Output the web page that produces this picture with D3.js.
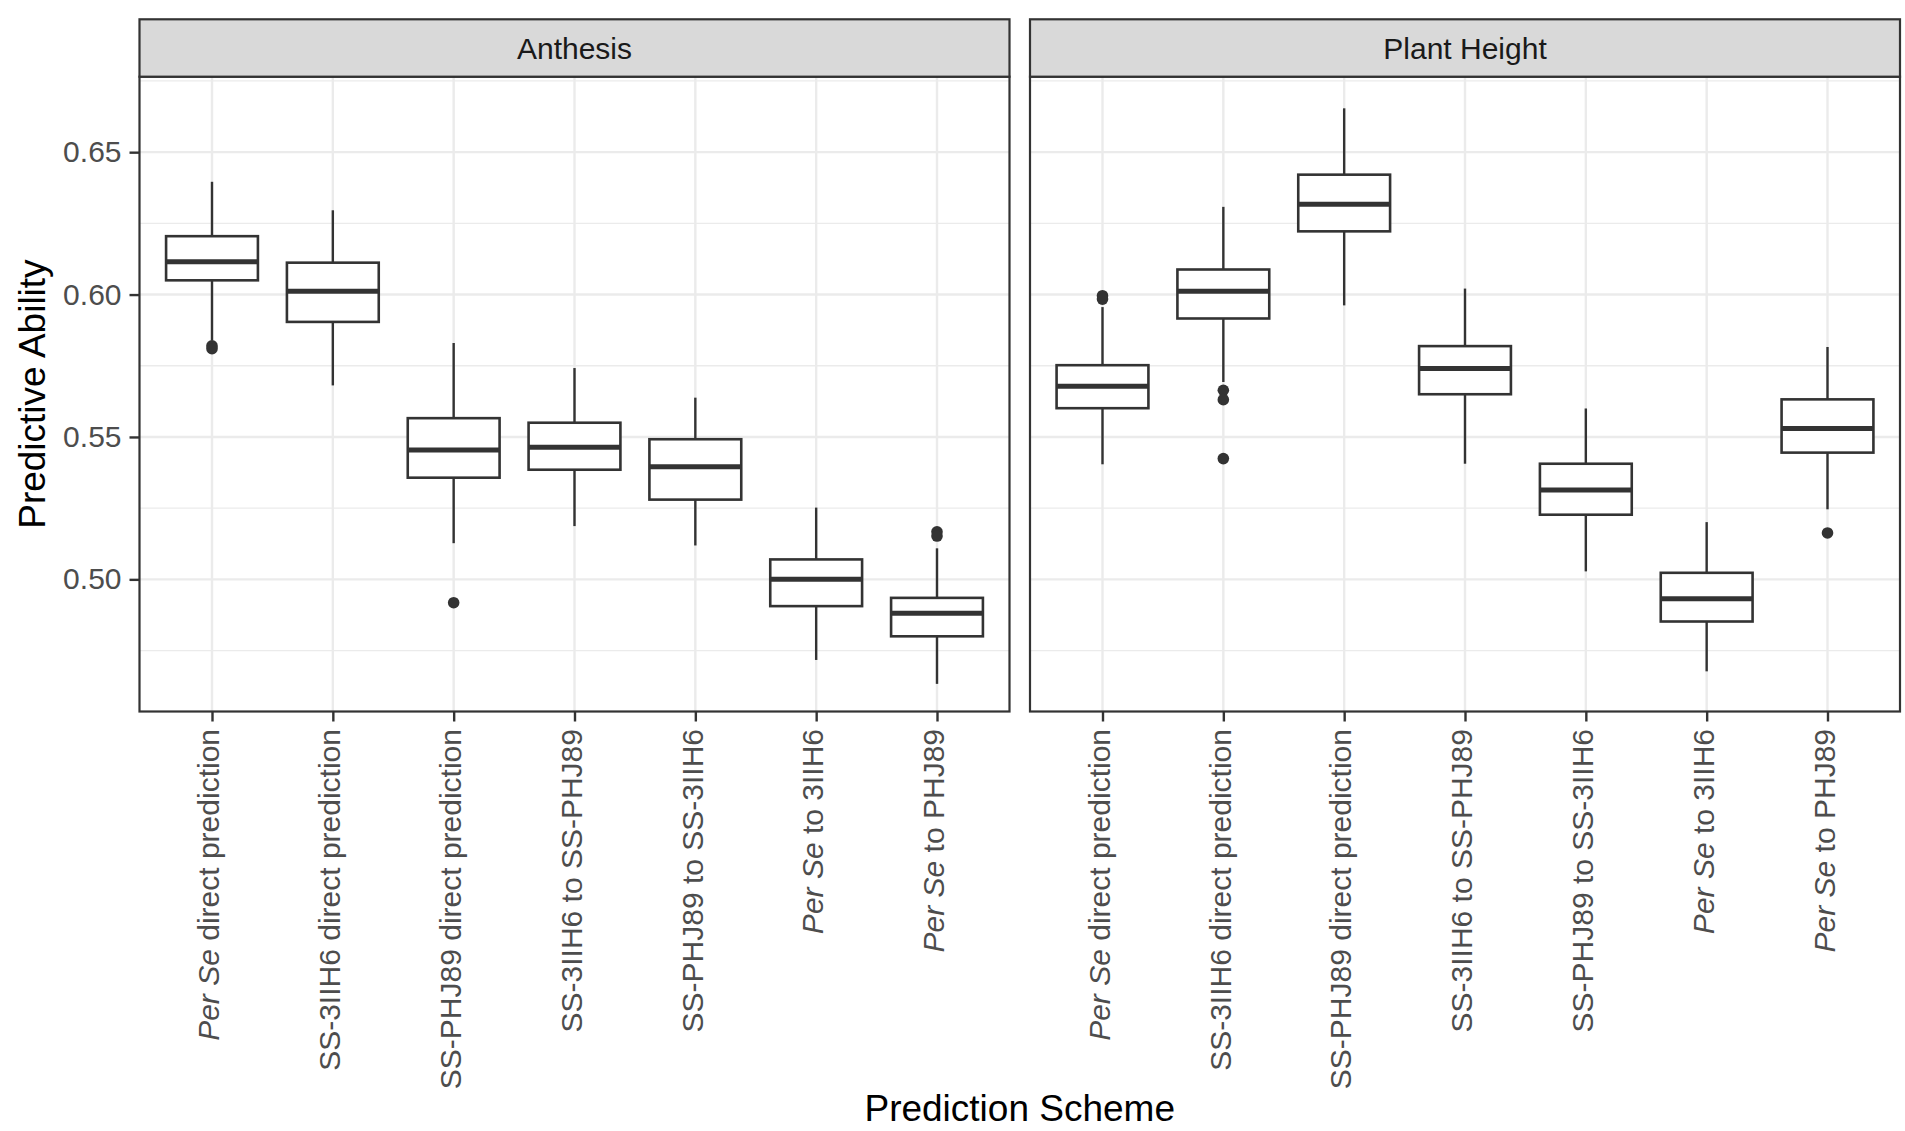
<!DOCTYPE html>
<html>
<head>
<meta charset="utf-8">
<script src="https://cdn.jsdelivr.net/npm/d3@7"></script>
<style>
  body { margin: 0; background: #fff; }
  svg text { font-family: "Liberation Sans", Arial, Helvetica, sans-serif; }
</style>
</head>
<body>
<div id="chart"></div>
<script>
// Data
const panels = ['Anthesis', 'Plant Height'];
const schemes = [
  'Per Se direct prediction',
  'SS-3IIH6 direct prediction',
  'SS-PHJ89 direct prediction',
  'SS-3IIH6 to SS-PHJ89',
  'SS-PHJ89 to SS-3IIH6',
  'Per Se to 3IIH6',
  'Per Se to PHJ89'
];
const yTicks = [0.50, 0.55, 0.60, 0.65];
const yMinor = [0.475, 0.525, 0.575, 0.625, 0.675];

// [lower whisker, q1, median, q3, upper whisker]
const anthesisStats = [
  [0.5839, 0.6050, 0.6115, 0.6205, 0.6396],
  [0.5681, 0.5904, 0.6012, 0.6112, 0.6296],
  [0.5127, 0.5357, 0.5454, 0.5566, 0.5830],
  [0.5187, 0.5385, 0.5464, 0.5550, 0.5742],
  [0.5119, 0.5280, 0.5395, 0.5492, 0.5638],
  [0.4717, 0.4906, 0.5000, 0.5070, 0.5252],
  [0.4633, 0.4800, 0.4881, 0.4935, 0.5109]
];
const anthesisOutliers = [
  [0.5820, 0.5810], [], [0.4918], [], [], [], [0.5167, 0.5152]
];
const heightStats = [
  [0.5404, 0.5601, 0.5678, 0.5752, 0.5956],
  [0.5693, 0.5916, 0.6012, 0.6088, 0.6308],
  [0.5962, 0.6222, 0.6317, 0.6421, 0.6654],
  [0.5406, 0.5650, 0.5740, 0.5819, 0.6021],
  [0.5028, 0.5227, 0.5314, 0.5406, 0.5600],
  [0.4677, 0.4852, 0.4932, 0.5023, 0.5201],
  [0.5246, 0.5445, 0.5530, 0.5632, 0.5816]
];
const heightOutliers = [
  [0.5996, 0.5984], [0.5664, 0.5631, 0.5424], [], [], [], [], [0.5163]
];

const panelStats = [anthesisStats, heightStats];
const panelOutliers = [anthesisOutliers, heightOutliers];

// Layout
const width = 1905, height = 1131;
const stripTop = 19.3, plotTop = 76.7, plotBottom = 711.5;
const panelX = [[139.5, 1009.5], [1030, 1900]];
const ink = '#333333';

const svg = d3.select('#chart')
  .append('svg')
    .attr('width', width)
    .attr('height', height);

const y = d3.scaleLinear()
  .domain([0.4536, 0.6765])
  .range([plotBottom, plotTop]);

panels.forEach((panelName, p) => {
  const [x0, x1] = panelX[p];
  const x = d3.scalePoint()
    .domain(schemes)
    .range([x0, x1])
    .padding(0.6);
  const boxW = x.step() * 0.76;

  const g = svg.append('g');

  // minor grid
  g.selectAll('.minor')
    .data(yMinor)
    .join('line')
      .attr('x1', x0).attr('x2', x1)
      .attr('y1', d => y(d)).attr('y2', d => y(d))
      .attr('stroke', '#EBEBEB')
      .attr('stroke-width', 1.3);

  // major grid
  g.selectAll('.major-y')
    .data(yTicks)
    .join('line')
      .attr('x1', x0).attr('x2', x1)
      .attr('y1', d => y(d)).attr('y2', d => y(d))
      .attr('stroke', '#EBEBEB')
      .attr('stroke-width', 2.4);
  g.selectAll('.major-x')
    .data(schemes)
    .join('line')
      .attr('x1', d => x(d)).attr('x2', d => x(d))
      .attr('y1', plotTop).attr('y2', plotBottom)
      .attr('stroke', '#EBEBEB')
      .attr('stroke-width', 2.4);

  const stats = panelStats[p];

  // boxes, whiskers, outliers
  schemes.forEach((s, i) => {
    const [lo, q1, med, q3, hi] = stats[i];
    g.append('line')
      .attr('x1', x(s)).attr('x2', x(s))
      .attr('y1', y(hi)).attr('y2', y(q3))
      .attr('stroke', ink).attr('stroke-width', 2.4);
    g.append('line')
      .attr('x1', x(s)).attr('x2', x(s))
      .attr('y1', y(q1)).attr('y2', y(lo))
      .attr('stroke', ink).attr('stroke-width', 2.4);
    g.append('rect')
      .attr('x', x(s) - boxW / 2)
      .attr('y', y(q3))
      .attr('width', boxW)
      .attr('height', y(q1) - y(q3))
      .attr('fill', '#fff')
      .attr('stroke', ink)
      .attr('stroke-width', 2.6);
    g.append('line')
      .attr('x1', x(s) - boxW / 2).attr('x2', x(s) + boxW / 2)
      .attr('y1', y(med)).attr('y2', y(med))
      .attr('stroke', ink).attr('stroke-width', 5);
    panelOutliers[p][i].forEach(v => {
      g.append('circle')
        .attr('cx', x(s))
        .attr('cy', y(v))
        .attr('r', 5.8)
        .attr('fill', ink);
    });
  });

  // panel border
  g.append('rect')
    .attr('x', x0).attr('y', plotTop)
    .attr('width', x1 - x0).attr('height', plotBottom - plotTop)
    .attr('fill', 'none')
    .attr('stroke', ink)
    .attr('stroke-width', 2.2);

  // strip
  g.append('rect')
    .attr('x', x0).attr('y', stripTop)
    .attr('width', x1 - x0).attr('height', plotTop - stripTop)
    .attr('fill', '#D9D9D9')
    .attr('stroke', ink)
    .attr('stroke-width', 2.2);
  g.append('text')
    .attr('x', (x0 + x1) / 2)
    .attr('y', 59.3)
    .attr('text-anchor', 'middle')
    .attr('font-size', 30)
    .attr('fill', '#1A1A1A')
    .text(panelName);

  // x axis
  const xAxis = g.append('g')
    .attr('transform', `translate(0,${plotBottom})`)
    .call(d3.axisBottom(x).tickSize(10).tickFormat(''));
  xAxis.select('.domain').remove();
  xAxis.selectAll('.tick line')
    .attr('stroke', ink)
    .attr('stroke-width', 2.4);

  schemes.forEach(s => {
    const t = g.append('text')
      .attr('transform', `translate(${x(s)},729) rotate(-90)`)
      .attr('text-anchor', 'end')
      .attr('dy', '0.24em')
      .attr('font-size', 30)
      .attr('fill', '#4D4D4D');
    if (s.startsWith('Per Se')) {
      t.append('tspan').attr('font-style', 'italic').text('Per Se');
      t.append('tspan').text(s.slice(6));
    } else {
      t.text(s);
    }
  });

  // y axis on the first panel only
  if (p === 0) {
    const yAxis = g.append('g')
      .attr('transform', `translate(${x0},0)`)
      .call(d3.axisLeft(y).tickValues(yTicks).tickFormat(d3.format('.2f')).tickSize(10).tickPadding(8));
    yAxis.select('.domain').remove();
    yAxis.selectAll('.tick line')
      .attr('stroke', ink)
      .attr('stroke-width', 2.4);
    yAxis.selectAll('.tick text')
      .attr('font-size', 30)
      .attr('font-family', '"Liberation Sans", Arial, sans-serif')
      .attr('fill', '#4D4D4D');
  }
});

// axis titles
svg.append('text')
  .attr('x', (panelX[0][0] + panelX[1][1]) / 2)
  .attr('y', 1121)
  .attr('text-anchor', 'middle')
  .attr('font-size', 37)
  .attr('fill', '#000')
  .text('Prediction Scheme');

svg.append('text')
  .attr('transform', `translate(45,${(plotTop + plotBottom) / 2}) rotate(-90)`)
  .attr('text-anchor', 'middle')
  .attr('font-size', 37)
  .attr('fill', '#000')
  .text('Predictive Ability');
</script>
</body>
</html>
